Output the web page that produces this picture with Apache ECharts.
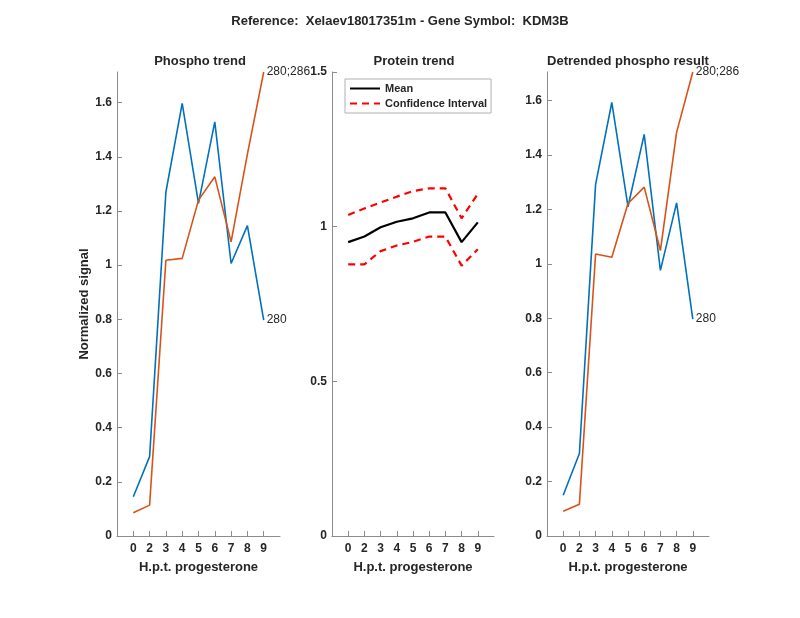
<!DOCTYPE html>
<html>
<head>
<meta charset="utf-8">
<script src="https://cdn.jsdelivr.net/npm/echarts@6/dist/echarts.min.js"></script>
<style>html,body{margin:0;padding:0;background:#fff;}#c{width:800px;height:618px;}</style>
</head>
<body>
<div id="c"></div>
<script>
var categories = ['0','2','3','4','5','6','7','8','9'];
var phosphoBlue = [0.145,0.293,1.270,1.597,1.228,1.529,1.006,1.146,0.797];
var phosphoOrange = [0.086,0.114,1.018,1.025,1.240,1.326,1.086,1.410,1.713];
var proteinMean = [0.950,0.968,0.998,1.016,1.027,1.046,1.046,0.950,1.014];
var proteinUpper = [1.038,1.059,1.078,1.097,1.115,1.124,1.124,1.027,1.106];
var proteinLower = [0.878,0.878,0.921,0.939,0.951,0.968,0.968,0.874,0.927];
var detrBlue = [0.150,0.303,1.292,1.593,1.210,1.476,0.976,1.224,0.797];
var detrOrange = [0.091,0.117,1.036,1.024,1.222,1.282,1.049,1.483,1.705];
var blueLabel = '280';
var orangeLabel = '280;286';
var leftTicks = [0,0.2,0.4,0.6,0.8,1,1.2,1.4,1.6];
var midTicks = [0,0.5,1,1.5];

var FONT = '"Liberation Sans", Arial, sans-serif';
var TXT = '#262626';
var AX = '#8c8c8c';
var BLUE = '#0072BD', ORANGE = '#D95319';

function toXY(arr) {
  return arr.map(function (v, i) { return [i + 1, v]; });
}
var xTickVals = categories.map(function (c, i) { return i + 1; });

function xAxis(gi) {
  return {
    type: 'value', gridIndex: gi, min: 0, max: categories.length + 1, interval: 1,
    name: 'H.p.t. progesterone', nameLocation: 'middle', nameGap: 25,
    nameTextStyle: { color: TXT, fontFamily: FONT, fontSize: 13, fontWeight: 'bold' },
    axisLine: { show: true, lineStyle: { color: AX, width: 1 } },
    axisTick: { show: true, inside: true, length: 5, customValues: xTickVals, lineStyle: { color: AX } },
    axisLabel: { customValues: xTickVals, margin: 7, color: TXT, fontFamily: FONT, fontSize: 12, fontWeight: 'bold',
      formatter: function (v) { return categories[Math.round(v) - 1] || ''; } },
    splitLine: { show: false }
  };
}
function yAxis(gi, max, interval, ticks, name) {
  var a = {
    type: 'value', gridIndex: gi, min: 0, max: max, interval: interval,
    axisLine: { show: true, lineStyle: { color: AX, width: 1 } },
    axisTick: { show: true, inside: true, length: 5, customValues: ticks, lineStyle: { color: AX } },
    axisLabel: { customValues: ticks, margin: 5, color: TXT, fontFamily: FONT, fontSize: 12, fontWeight: 'bold' },
    splitLine: { show: false }
  };
  if (name) {
    a.name = name; a.nameLocation = 'middle'; a.nameGap = 26; a.nameMoveOverlap = false;
    a.nameTextStyle = { color: TXT, fontFamily: FONT, fontSize: 13, fontWeight: 'bold' };
  }
  return a;
}
function line(name, gi, arr, color, endLabel, dashed, width) {
  var s = {
    type: 'line', name: name, xAxisIndex: gi, yAxisIndex: gi, data: toXY(arr),
    symbol: 'none', showSymbol: false, silent: true,
    lineStyle: { color: color, width: width || 1.6, type: dashed ? [7, 5] : 'solid' },
    itemStyle: { color: color }
  };
  if (endLabel) {
    s.endLabel = { show: true, formatter: endLabel, distance: 3, color: TXT,
      fontFamily: FONT, fontSize: 12, fontWeight: 'normal' };
  }
  return s;
}

var chart = echarts.init(document.getElementById('c'), null, { renderer: 'canvas' });
var ttl = { color: TXT, fontFamily: FONT, fontSize: 13, fontWeight: 'bold' };
chart.setOption({
  animation: false,
  backgroundColor: '#fff',
  title: [
    { text: 'Reference:  Xelaev18017351m - Gene Symbol:  KDM3B', left: 'center', top: 10, textStyle: ttl },
    { text: 'Phospho trend', left: 195, top: 50, textAlign: 'center', textStyle: ttl },
    { text: 'Protein trend', left: 409, top: 50, textAlign: 'center', textStyle: ttl },
    { text: 'Detrended phospho result', left: 623, top: 50, textAlign: 'center', textStyle: ttl }
  ],
  legend: {
    data: ['Mean', 'Confidence Interval'], orient: 'vertical', left: 345, top: 79,
    padding: [4, 4, 4, 4], itemGap: 4, itemWidth: 30, itemHeight: 12,
    borderColor: '#b0b0b0', borderWidth: 1, backgroundColor: '#fff',
    itemStyle: { opacity: 0 },
    textStyle: { color: TXT, fontFamily: FONT, fontSize: 11, fontWeight: 'bold' },
    selectedMode: false
  },
  grid: [
    { left: 117, top: 72, width: 163, height: 464 },
    { left: 332, top: 72, width: 162, height: 464 },
    { left: 547, top: 72, width: 162, height: 464 }
  ],
  xAxis: [xAxis(0), xAxis(1), xAxis(2)],
  yAxis: [
    yAxis(0, 1.713, 0.2, leftTicks, 'Normalized signal'),
    yAxis(1, 1.5, 0.5, midTicks),
    yAxis(2, 1.705, 0.2, leftTicks)
  ],
  series: [
    line('blue1', 0, phosphoBlue, BLUE, blueLabel),
    line('orange1', 0, phosphoOrange, ORANGE, orangeLabel),
    line('Mean', 1, proteinMean, '#000', null, false, 2.2),
    line('Confidence Interval', 1, proteinUpper, '#ff0000', null, true, 2.2),
    line('Confidence Interval', 1, proteinLower, '#ff0000', null, true, 2.2),
    line('blue3', 2, detrBlue, BLUE, blueLabel),
    line('orange3', 2, detrOrange, ORANGE, orangeLabel)
  ]
});
</script>
</body>
</html>
